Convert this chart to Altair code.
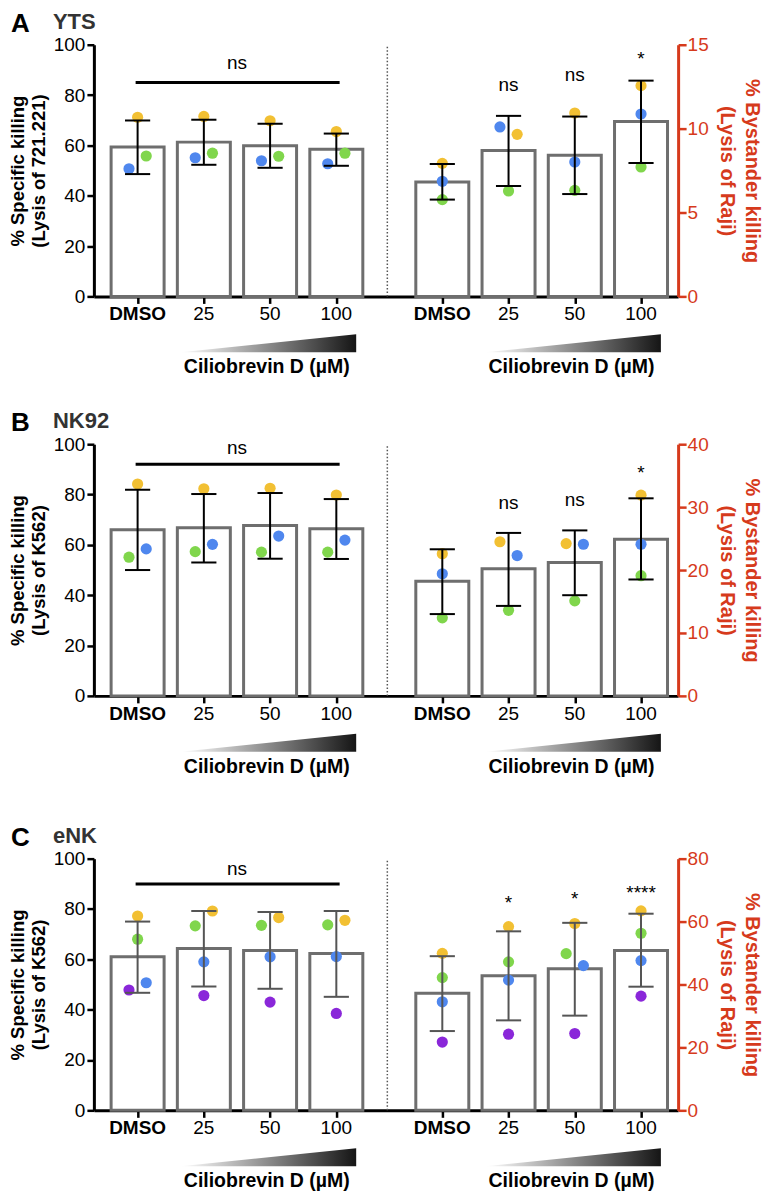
import altair as alt
import pandas as pd

# ---------------- data ----------------
CATS = ["DMSO", "25", "50", "100"]
DONOR_COLORS = {"yellow": "#f2c033", "blue": "#4f87ee", "green": "#80d64c", "purple": "#8a27d9"}
DRUG_LABEL = "Ciliobrevin D (µM)"

# Panel A - YTS
A_SPEC_MEAN = [59.4, 61.3, 59.9, 58.5]
A_SPEC_HI = [69.9, 70.2, 68.6, 64.7]
A_SPEC_LO = [48.6, 52.3, 51.1, 51.9]
A_SPEC_YELLOW = [71.2, 71.5, 69.8, 65.5]
A_SPEC_BLUE = [50.7, 55.1, 53.9, 52.7]
A_SPEC_GREEN = [55.8, 56.9, 55.7, 56.9]
A_BYS_MEAN = [6.82, 8.69, 8.41, 10.42]
A_BYS_HI = [7.89, 10.76, 10.72, 12.86]
A_BYS_LO = [5.77, 6.58, 6.10, 7.95]
A_BYS_YELLOW = [7.93, 9.66, 10.93, 12.56]
A_BYS_BLUE = [6.86, 10.10, 8.01, 10.87]
A_BYS_GREEN = [5.77, 6.28, 6.32, 7.71]
A_SIG = ["", "ns", "ns", "*"]
A_SIG_Y = [0, 12.25, 12.84, 13.78]
A_NS_Y, A_NS_LINE = 90.3, 85.0

# Panel B - NK92
B_SPEC_MEAN = [66.0, 66.8, 67.7, 66.4]
B_SPEC_HI = [81.9, 80.2, 80.6, 78.2]
B_SPEC_LO = [50.0, 53.0, 54.5, 54.4]
B_SPEC_YELLOW = [84.2, 82.3, 82.5, 79.8]
B_SPEC_GREEN = [55.1, 57.3, 57.1, 57.1]
B_SPEC_BLUE = [58.4, 60.2, 63.5, 61.9]
B_BYS_MEAN = [18.2, 20.2, 21.2, 24.9]
B_BYS_HI = [23.3, 25.9, 26.3, 31.4]
B_BYS_LO = [13.0, 14.3, 16.0, 18.5]
B_BYS_YELLOW = [22.6, 24.5, 24.2, 31.9]
B_BYS_BLUE = [19.4, 22.3, 24.1, 24.1]
B_BYS_GREEN = [12.4, 13.6, 15.1, 19.1]
B_SIG = ["", "ns", "ns", "*"]
B_SIG_Y = [0, 29.7, 30.2, 34.5]
B_NS_Y, B_NS_LINE = 96.0, 92.0

# Panel C - eNK
C_SPEC_MEAN = [61.0, 64.3, 63.5, 62.3]
C_SPEC_HI = [75.0, 79.2, 78.8, 79.2]
C_SPEC_LO = [46.7, 49.2, 48.3, 45.1]
C_SPEC_YELLOW = [77.2, 79.2, 76.6, 75.5]
C_SPEC_GREEN = [68.0, 73.3, 73.5, 73.7]
C_SPEC_BLUE = [50.7, 59.0, 61.0, 61.1]
C_SPEC_PURPLE = [47.8, 45.6, 43.0, 38.5]
C_BYS_MEAN = [37.2, 42.8, 45.0, 50.8]
C_BYS_HI = [49.0, 56.9, 59.6, 62.5]
C_BYS_LO = [25.2, 28.6, 30.1, 39.3]
C_BYS_YELLOW = [49.9, 58.4, 59.4, 63.4]
C_BYS_GREEN = [42.2, 47.2, 49.8, 56.3]
C_BYS_BLUE = [34.5, 41.4, 46.0, 47.6]
C_BYS_PURPLE = [21.7, 24.2, 24.4, 36.3]
C_SIG = ["", "*", "*", "****"]
C_SIG_Y = [0, 64.0, 65.2, 67.1]
C_NS_Y, C_NS_LINE = 93.7, 89.9

# which side each dot sits on (-1 left, 0 centre, 1 right)
A_SPEC_SIDE = {"yellow": [0, 0, 0, 0], "blue": [-1, -1, -1, -1], "green": [1, 1, 1, 1]}
A_BYS_SIDE = {"yellow": [0, 1, 0, 0], "blue": [0, -1, 0, 0], "green": [0, 0, 0, 0]}
B_SPEC_SIDE = {"yellow": [0, 0, 0, 0], "green": [-1, -1, -1, -1], "blue": [1, 1, 1, 1]}
B_BYS_SIDE = {"yellow": [0, -1, -1, 0], "blue": [0, 1, 1, 0], "green": [0, 0, 0, 0]}
C_SPEC_SIDE = {"yellow": [0, 1, 1, 1], "green": [0, -1, -1, -1], "blue": [1, 0, 0, 0], "purple": [-1, 0, 0, 0]}
C_BYS_SIDE = {"yellow": [0, 0, 0, 0], "green": [0, 0, -1, 0], "blue": [0, 0, 1, 0], "purple": [0, 0, 0, 0]}

# ---------------- layout / style ----------------
W, H = 585, 252
XDOM = [-0.66, 8.16]
SHIFT = 4.6
BAR_HALF = 0.40
CAP_HALF = 0.19
JIT = 0.13
RED = "#d63a1c"
FONT = "Liberation Sans"
TICKS = [i for i in range(4)] + [i + SHIFT for i in range(4)]

XAXIS = alt.Axis(
    values=TICKS, labels=False, domainColor="black", domainWidth=3, tickColor="black",
    tickWidth=2.5, tickSize=7, grid=False, orient="bottom", title=None)


def xs(field):
    # every layer carries the same axis definition so the shared axis merges cleanly
    return alt.X(field, type="quantitative",
                 scale=alt.Scale(domain=XDOM, nice=False, zero=False), axis=XAXIS)


def bar_frame(mean, hi, lo, shift):
    df = pd.DataFrame({"pos": [i + shift for i in range(4)], "mean": mean, "hi": hi, "lo": lo})
    df["x0"] = df["pos"] - BAR_HALF
    df["x1"] = df["pos"] + BAR_HALF
    df["c0"] = df["pos"] - CAP_HALF
    df["c1"] = df["pos"] + CAP_HALF
    return df


def dot_frame(donors, sides, shift):
    rows = []
    for name, vals in donors.items():
        for i, v in enumerate(vals):
            rows.append({"px": i + shift + sides[name][i] * JIT, "val": v, "col": DONOR_COLORS[name]})
    return pd.DataFrame(rows)


def group(bdf, ddf, ys, errcol, extra=()):
    bars = alt.Chart(bdf).mark_rect(fill="white", stroke="#6e6e6e", strokeWidth=3).encode(
        x=xs("x0"), x2=alt.X2("x1"), y=ys("mean"), y2=alt.Y2Datum(0))
    dots = alt.Chart(ddf).mark_circle(size=125, opacity=1).encode(
        x=xs("px"), y=ys("val"), color=alt.Color("col:N", scale=None))
    err = alt.Chart(bdf).mark_rule(color=errcol, strokeWidth=2).encode(
        x=xs("pos"), y=ys("lo"), y2=alt.Y2("hi"))
    cap_hi = alt.Chart(bdf).mark_rule(color=errcol, strokeWidth=2).encode(
        x=xs("c0"), x2=alt.X2("c1"), y=ys("hi"))
    cap_lo = alt.Chart(bdf).mark_rule(color=errcol, strokeWidth=2).encode(
        x=xs("c0"), x2=alt.X2("c1"), y=ys("lo"))
    return alt.layer(bars, dots, err, cap_hi, cap_lo, *extra)


def panel(letter, name, left_title, spec, spec_side, bys, bys_side, rmax, rstep,
          sig, sig_y, ns_y, ns_line, errcol):
    axL = alt.Axis(values=list(range(0, 101, 20)), title=left_title, titleFontSize=18.5,
                   titleFontWeight="bold", titleColor="black", titlePadding=5, titleLineHeight=21,
                   labelFontSize=19, labelColor="black", labelPadding=2, domainColor="black",
                   domainWidth=3, tickColor="black", tickWidth=2.5, tickSize=7, grid=False,
                   orient="left")
    axR = alt.Axis(values=list(range(0, rmax + 1, rstep)),
                   title=["% Bystander killing", "(Lysis of Raji)"], titleAngle=90,
                   titleFontSize=20, titleFontWeight="bold", titleColor=RED, titlePadding=8,
                   titleLineHeight=25, labelFontSize=19, labelColor=RED, labelPadding=1,
                   domainColor=RED, domainWidth=3, tickColor=RED, tickWidth=2.5, tickSize=8,
                   grid=False, orient="right")

    def yl(field):
        return alt.Y(field, type="quantitative",
                     scale=alt.Scale(domain=[0, 100], nice=False, zero=True), axis=axL)

    def yr(field):
        return alt.Y(field, type="quantitative",
                     scale=alt.Scale(domain=[0, rmax], nice=False, zero=True), axis=axR)

    ns_df = pd.DataFrame({"x": [1.5], "y": [ns_y], "t": ["ns"]})
    ns_text = alt.Chart(ns_df).mark_text(fontSize=19, baseline="alphabetic", font=FONT,
                                         color="black").encode(
        x=xs("x"), y=yl("y"), text="t:N")
    ns_line_df = pd.DataFrame({"x0": [-0.03], "x1": [3.05], "y": [ns_line]})
    ns_rule = alt.Chart(ns_line_df).mark_rule(color="black", strokeWidth=3).encode(
        x=xs("x0"), x2=alt.X2("x1"), y=yl("y"))
    div_df = pd.DataFrame({"x": [3.77], "y0": [0], "y1": [100]})
    divider = alt.Chart(div_df).mark_rule(color="#555555", strokeWidth=1.5,
                                          strokeDash=[1.5, 2]).encode(
        x=xs("x"), y=yl("y0"), y2=alt.Y2("y1"))

    # category labels under the ticks
    lab_df = pd.DataFrame({"pos": TICKS, "t": CATS + CATS})
    lab_norm = alt.Chart(lab_df[lab_df["t"] != "DMSO"]).mark_text(
        fontSize=19, font=FONT, baseline="top", color="black").encode(
        x=xs("pos"), y=alt.value(H + 9), text="t:N")
    lab_bold = alt.Chart(lab_df[lab_df["t"] == "DMSO"]).mark_text(
        fontSize=19, font=FONT, fontWeight="bold", baseline="top", color="black").encode(
        x=xs("pos"), y=alt.value(H + 9), text="t:N")

    # concentration wedges and their label, below the x axis (pixel offsets -> left units)
    def px_to_units(px):
        return -px / H * 100

    wedge_df = pd.DataFrame({
        "wx": [0.65, 3.3, 0.65 + SHIFT, 3.3 + SHIFT],
        "top": [px_to_units(56), px_to_units(38), px_to_units(56), px_to_units(38)],
        "bot": [px_to_units(56)] * 4,
        "g": ["l", "l", "r", "r"]})
    grad = alt.LinearGradient(gradient="linear",
                              stops=[alt.GradientStop(color="#ffffff", offset=0),
                                     alt.GradientStop(color="#151515", offset=1)],
                              x1=0, x2=1, y1=0, y2=0)
    wedges = alt.Chart(wedge_df).mark_area(color=grad).encode(
        x=xs("wx"), y=yl("top"), y2=alt.Y2("bot"), detail="g:N")
    drug_df = pd.DataFrame({"cx": [1.95, 1.95 + SHIFT], "t": [DRUG_LABEL, DRUG_LABEL]})
    drug = alt.Chart(drug_df).mark_text(fontSize=19.5, fontWeight="bold", font=FONT,
                                        baseline="middle", color="black").encode(
        x=xs("cx"), y=alt.value(H + 71), text="t:N")

    let_df = pd.DataFrame({"t": [letter], "n": [name]})
    let_mark = alt.Chart(let_df).mark_text(fontSize=26, fontWeight="bold", font=FONT,
                                           align="left", baseline="top", color="black").encode(
        x=alt.value(-83), y=alt.value(-34), text="t:N")
    name_mark = alt.Chart(let_df).mark_text(fontSize=22, fontWeight="bold", font=FONT,
                                            align="left", baseline="top", color="#333333").encode(
        x=alt.value(-41), y=alt.value(-33), text="n:N")

    left = group(bar_frame(*spec[:3], 0), dot_frame(spec[3], spec_side, 0), yl, errcol,
                 extra=(ns_rule, ns_text, divider, lab_norm, lab_bold, wedges, drug,
                        let_mark, name_mark))

    sig_df = pd.DataFrame({"pos": [i + SHIFT for i in range(4)], "s": sig, "y": sig_y})
    sig_df = sig_df[sig_df["s"] != ""]
    sig_text = alt.Chart(sig_df).mark_text(fontSize=19, baseline="alphabetic", font=FONT,
                                           color="black").encode(
        x=xs("pos"), y=yr("y"), text="s:N")
    right = group(bar_frame(*bys[:3], SHIFT), dot_frame(bys[3], bys_side, SHIFT), yr, errcol,
                  extra=(sig_text,))

    return alt.layer(left, right).resolve_scale(y="independent").properties(width=W, height=H)


pA = panel("A", "YTS", ["% Specific killing", "(Lysis of 721.221)"],
           (A_SPEC_MEAN, A_SPEC_HI, A_SPEC_LO,
            {"yellow": A_SPEC_YELLOW, "blue": A_SPEC_BLUE, "green": A_SPEC_GREEN}), A_SPEC_SIDE,
           (A_BYS_MEAN, A_BYS_HI, A_BYS_LO,
            {"yellow": A_BYS_YELLOW, "blue": A_BYS_BLUE, "green": A_BYS_GREEN}), A_BYS_SIDE,
           15, 5, A_SIG, A_SIG_Y, A_NS_Y, A_NS_LINE, "black")

pB = panel("B", "NK92", ["% Specific killing", "(Lysis of K562)"],
           (B_SPEC_MEAN, B_SPEC_HI, B_SPEC_LO,
            {"yellow": B_SPEC_YELLOW, "green": B_SPEC_GREEN, "blue": B_SPEC_BLUE}), B_SPEC_SIDE,
           (B_BYS_MEAN, B_BYS_HI, B_BYS_LO,
            {"yellow": B_BYS_YELLOW, "blue": B_BYS_BLUE, "green": B_BYS_GREEN}), B_BYS_SIDE,
           40, 10, B_SIG, B_SIG_Y, B_NS_Y, B_NS_LINE, "black")

pC = panel("C", "eNK", ["% Specific killing", "(Lysis of K562)"],
           (C_SPEC_MEAN, C_SPEC_HI, C_SPEC_LO,
            {"yellow": C_SPEC_YELLOW, "green": C_SPEC_GREEN, "blue": C_SPEC_BLUE,
             "purple": C_SPEC_PURPLE}), C_SPEC_SIDE,
           (C_BYS_MEAN, C_BYS_HI, C_BYS_LO,
            {"yellow": C_BYS_YELLOW, "green": C_BYS_GREEN, "blue": C_BYS_BLUE,
             "purple": C_BYS_PURPLE}), C_BYS_SIDE,
           80, 20, C_SIG, C_SIG_Y, C_NS_Y, C_NS_LINE, "#555555")

chart = alt.vconcat(alt.vconcat(pA, pB, spacing=33), pC, spacing=48).properties(
    padding={"left": 0, "top": 2, "right": 6, "bottom": 0}
).configure(font=FONT).configure_view(stroke=None).configure_axis(
    labelFont=FONT, titleFont=FONT)

chart.save("out.html", embed_options={"renderer": "svg", "actions": False})
